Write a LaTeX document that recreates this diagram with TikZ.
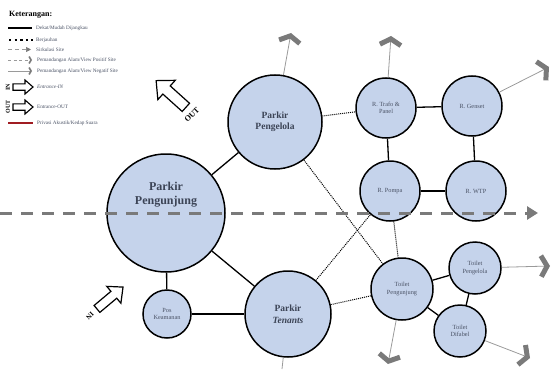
\documentclass[tikz,border=0pt]{standalone}
\usepackage{fontspec}
\setmainfont{Liberation Serif}
\usetikzlibrary{arrows.meta}
\definecolor{bub}{HTML}{C5D3EB}
\definecolor{txt}{HTML}{3C4456}
\definecolor{stxt}{HTML}{4A5265}
\definecolor{chev}{HTML}{7A7A7A}
\definecolor{thinl}{HTML}{9A9A9A}
\definecolor{dashl}{HTML}{7A7A7A}
\definecolor{redl}{HTML}{A01C22}
\tikzset{
  bubble/.style={circle, draw=black, line width=1.5pt, fill=bub, text=txt, align=center, inner sep=0pt},
  bigtxt/.style={text=txt, align=center, font=\bfseries\fontsize{12}{14}\selectfont},
  midb/.style={bubble, font=\bfseries\fontsize{9.5}{11.5}\selectfont},
  smallb/.style={bubble, text=stxt, font=\fontsize{6.3}{7.6}\selectfont},
  nearl/.style={line width=1.3pt},
  farl/.style={line width=1pt, dash pattern=on 1pt off 1pt},
  viewl/.style={draw=thinl, line width=0.8pt, -{Straight Barb[length=6pt,width=21pt,line width=5pt,color=chev]}},
  legtxt/.style={anchor=west, text=stxt, font=\fontsize{5.2}{6}\selectfont, inner sep=0pt},
  blockarrow/.style={draw=black, fill=white, line width=1.2pt, line join=miter}
}
% block arrow: center x, center y, angle, length, head length, head half width, shaft half width
\newcommand\blockarr[8][]{%
  \draw[blockarrow,#1,shift={(#2,#3)},rotate=#4]
    (-#5/2,-#8) -- ({#5/2-#6},-#8) -- ({#5/2-#6},-#7) -- (#5/2,0)
    -- ({#5/2-#6},#7) -- ({#5/2-#6},#8) -- (-#5/2,#8) -- cycle;}
\begin{document}
\begin{tikzpicture}[x=1pt,y=-1pt]
\useasboundingbox (0,0) rectangle (556,369);
% bubbles
\node[bubble, minimum size=118pt] (pgj) at (166,213) {};
\node[bigtxt] (pgjt) at (166,195) {Parkir\\Pengunjung};
\node[midb, minimum size=94pt] (pgl) at (275,122) {Parkir\\Pengelola};
\node[midb, minimum size=86pt] (ten) at (288,314) {Parkir\\\textit{Tenants}};
\node[smallb, minimum size=48pt] (pos) at (167,314) {Pos\\Keamanan};
\node[smallb, minimum size=60pt] (trf) at (386,108) {R. Trafo \&\\Panel};
\node[smallb, minimum size=60pt] (gen) at (472,106) {R. Genset};
\node[smallb, minimum size=60pt] (pom) at (390,191) {R. Pompa};
\node[smallb, minimum size=60pt] (wtp) at (476,191) {R. WTP};
\node[smallb, minimum size=62pt] (tpg) at (402,289) {Toilet\\Pengunjung};
\node[smallb, minimum size=52pt] (tpl) at (475,268) {Toilet\\Pengelola};
\node[smallb, minimum size=52pt] (tdf) at (460,331) {Toilet\\Difabel};
% solid relations
\draw[nearl] (pgj) -- (pgl);
\draw[nearl] (pgj) -- (ten);
\draw[nearl] (pgj) -- (pos);
\draw[nearl] (pos) -- (ten);
\draw[nearl] (trf) -- (gen);
\draw[nearl] (trf) -- (pom);
\draw[nearl] (gen) -- (wtp);
\draw[nearl] (pom) -- (wtp);
\draw[nearl] (tpg) -- (tpl);
\draw[nearl] (tpg) -- (tdf);
\draw[nearl] (tpl) -- (tdf);
% dotted relations
\draw[farl] (pgl) -- (trf);
\draw[farl] (pgl) -- (tpg);
\draw[farl] (ten) -- (pom);
\draw[farl] (ten) -- (tpg);
\draw[farl] (pom) -- (tpg);
% views
\coordinate (v1) at (291,33);
\coordinate (v2) at (391,36);
\coordinate (v3) at (549,67);
\coordinate (v4) at (550,266);
\coordinate (v5) at (530,358);
\coordinate (v6) at (388,364);
\coordinate (v7) at (282,369);
\draw[viewl] (pgl) -- (v1);
\draw[viewl] (trf) -- (v2);
\draw[viewl] (gen) -- (v3);
\draw[viewl] (tpl) -- (v4);
\draw[viewl] (tdf) -- (v5);
\draw[viewl] (tpg) -- (v6);
\draw[draw=thinl, line width=0.8pt] (ten) -- (v7);
% circulation
\coordinate (c0) at (0,213);
\coordinate (c1) at (538,213);
\draw[dashl, line width=3pt, dash pattern=on 12pt off 9pt, -{Triangle[length=11pt,width=13pt]}] (c0) -- (c1);
% entrances
\blockarr{171}{94}{138}{40}{14}{13}{5.5}
\node[font=\bfseries\fontsize{8}{9}\selectfont, text=black, rotate=45] (outt) at (192,115) {OUT};
\blockarr{110}{298}{40}{34}{12}{11}{4.5}
\node[font=\bfseries\fontsize{7}{8}\selectfont, text=black, rotate=225] (int) at (90,316) {IN};
% legend
\node[anchor=west, inner sep=0pt, text=black, font=\bfseries\fontsize{8}{9}\selectfont] (ket) at (9,15) {Keterangan:};
\coordinate (l1a) at (8,28); \coordinate (l1b) at (32,28);
\draw[line width=2.3pt] (l1a) -- (l1b);
\node[legtxt] (t1) at (36,28) {Dekat/Mudah Dijangkau};
\coordinate (l2a) at (9,40); \coordinate (l2b) at (33,40);
\draw[line width=2.4pt, dash pattern=on 2.4pt off 3.2pt] (l2a) -- (l2b);
\node[legtxt] (t2) at (36,40) {Berjauhan};
\coordinate (l3a) at (8,49.5); \coordinate (l3b) at (31,49.5);
\draw[thinl, line width=0.7pt, dash pattern=on 4pt off 3pt, -{Triangle[length=5pt,width=5pt,color=dashl]}] (l3a) -- (l3b);
\node[legtxt] (t3) at (36,49.5) {Sirkulasi Site};
\coordinate (l4a) at (8,60); \coordinate (l4b) at (32,60);
\draw[thinl, line width=0.7pt, dash pattern=on 3pt off 2.5pt, -{Straight Barb[length=2pt,width=7pt,line width=1.6pt,color=chev]}] (l4a) -- (l4b);
\node[legtxt] (t4) at (37,60) {Pemandangan Alam/View Positif Site};
\coordinate (l5a) at (8,71); \coordinate (l5b) at (32,71);
\draw[thinl, line width=0.7pt, -{Straight Barb[length=2pt,width=7pt,line width=1.6pt,color=chev]}] (l5a) -- (l5b);
\node[legtxt] (t5) at (37,71) {Pemandangan Alam/View Negatif Site};
\node[font=\bfseries\fontsize{6}{7}\selectfont, text=black, rotate=90, inner sep=0pt] (lin) at (8,87) {IN};
\blockarr[line width=1.1pt]{23}{87}{0}{20}{8}{7}{3.2}
\node[legtxt, font=\itshape\fontsize{5.2}{6}\selectfont] (t6) at (37,87) {Entrance-IN};
\node[font=\bfseries\fontsize{6}{7}\selectfont, text=black, rotate=90, inner sep=0pt] (lout) at (8,107) {OUT};
\blockarr[line width=1.1pt]{23}{107}{0}{20}{8}{7}{3.2}
\node[legtxt] (t7) at (37,107) {Entrance-OUT};
\coordinate (l8a) at (8,123); \coordinate (l8b) at (33,123);
\draw[redl, line width=2pt] (l8a) -- (l8b);
\node[legtxt] (t8) at (37,123) {Privasi Akustik/Kedap Suara};
\end{tikzpicture}
\end{document}
